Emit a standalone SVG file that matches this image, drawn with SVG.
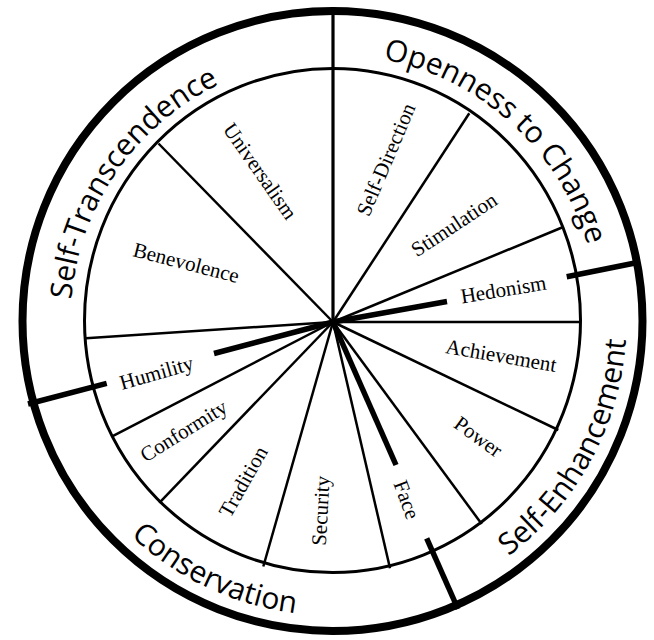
<svg xmlns="http://www.w3.org/2000/svg" xmlns:xlink="http://www.w3.org/1999/xlink" width="654" height="640" viewBox="0 0 654 640">
<style>
.thin{stroke:#000;stroke-width:2.5;fill:none;stroke-linecap:butt}
.thick{stroke:#000;stroke-width:5.5;fill:none;stroke-linecap:butt}
.val{font-family:"Liberation Serif","Times New Roman",serif;font-size:21px;fill:#000;text-anchor:middle}
.dom{font-family:"Open Sans","Noto Sans",sans-serif;font-size:30px;fill:#000;text-anchor:middle}
</style>
<defs>
<path id="arcST" d="M119.2,472.6 A262,262 0 0 1 398.1,66.9"/>
<path id="arcOC" d="M208.7,85.1 A266,266 0 0 1 578.7,421.2"/>
<path id="arcSE" d="M289.0,611.3 A294,294 0 0 0 552.7,125.7"/>
<path id="arcCO" d="M38.7,293.8 A295,295 0 0 0 540.4,529.8"/>
</defs>
<rect width="654" height="640" fill="#fff"/>
<g id="connectors">
<line class="thin" x1="333" y1="322" x2="158.5" y2="143.5"/>
<line class="thin" x1="333" y1="322" x2="469.3" y2="113.3"/>
<line class="thin" x1="333" y1="322" x2="562" y2="227.5"/>
<line class="thin" x1="333" y1="322" x2="581" y2="322"/>
<line class="thin" x1="333" y1="322" x2="558.3" y2="430"/>
<line class="thin" x1="333" y1="322" x2="481.7" y2="524"/>
<line class="thin" x1="333" y1="322" x2="390" y2="568.3"/>
<line class="thin" x1="333" y1="322" x2="263.3" y2="566.5"/>
<line class="thin" x1="333" y1="322" x2="159.3" y2="502.8"/>
<line class="thin" x1="333" y1="322" x2="111.7" y2="436.7"/>
<line class="thin" x1="333" y1="322" x2="86" y2="338.3"/>
<line x1="333" y1="322" x2="333" y2="12" stroke="#000" stroke-width="3.2"/>
<line class="thick" x1="333" y1="322" x2="447" y2="301.5"/>
<line class="thick" x1="566.7" y1="276.7" x2="640" y2="262"/>
<line class="thick" x1="333" y1="322" x2="214" y2="353.5"/>
<line class="thick" x1="106.7" y1="383.3" x2="28" y2="404"/>
<line class="thick" x1="333" y1="322" x2="396" y2="465"/>
<line class="thick" x1="426.7" y1="538.3" x2="458" y2="609"/>
</g>
<g id="rings">
<ellipse cx="332.5" cy="320.5" rx="248" ry="252" fill="none" stroke="#000" stroke-width="3"/>
<circle cx="332.5" cy="321" r="310" fill="none" stroke="#000" stroke-width="8"/>
</g>
<g id="domain-self-transcendence"><text class="dom"><textPath xlink:href="#arcST" href="#arcST" startOffset="50%">Self-Transcendence</textPath></text></g>
<g id="domain-openness"><text class="dom"><textPath xlink:href="#arcOC" href="#arcOC" startOffset="50%">Openness to Change</textPath></text></g>
<g id="domain-self-enhancement"><text class="dom"><textPath xlink:href="#arcSE" href="#arcSE" startOffset="50%">Self-Enhancement</textPath></text></g>
<g id="domain-conservation"><text class="dom"><textPath xlink:href="#arcCO" href="#arcCO" startOffset="50%">Conservation</textPath></text></g>
<g id="node-universalism"><text class="val" x="254.4" y="175.2" transform="rotate(55 254.4 175.2)">Universalism</text></g>
<g id="node-benevolence"><text class="val" x="184.5" y="269.5" transform="rotate(14.4 184.5 269.5)">Benevolence</text></g>
<g id="node-self-direction"><text class="val" x="392.5" y="162.3" transform="rotate(-67 392.5 162.3)">Self-Direction</text></g>
<g id="node-stimulation"><text class="val" x="457.8" y="230.5" transform="rotate(-33.5 457.8 230.5)">Stimulation</text></g>
<g id="node-hedonism"><text class="val" x="504.5" y="296.5" transform="rotate(-9.4 504.5 296.5)">Hedonism</text></g>
<g id="node-achievement"><text class="val" x="500" y="362.5" transform="rotate(9.8 500 362.5)">Achievement</text></g>
<g id="node-power"><text class="val" x="474.3" y="442.4" transform="rotate(36 474.3 442.4)">Power</text></g>
<g id="node-face"><text class="val" x="400.1" y="502.1" transform="rotate(69.5 400.1 502.1)">Face</text></g>
<g id="node-security"><text class="val" x="327.7" y="511.1" transform="rotate(-86.8 327.7 511.1)">Security</text></g>
<g id="node-tradition"><text class="val" x="249.4" y="485" transform="rotate(-60.5 249.4 485)">Tradition</text></g>
<g id="node-conformity"><text class="val" x="187.4" y="436.8" transform="rotate(-31.9 187.4 436.8)">Conformity</text></g>
<g id="node-humility"><text class="val" x="158.5" y="379.5" transform="rotate(-16 158.5 379.5)">Humility</text></g>
</svg>
